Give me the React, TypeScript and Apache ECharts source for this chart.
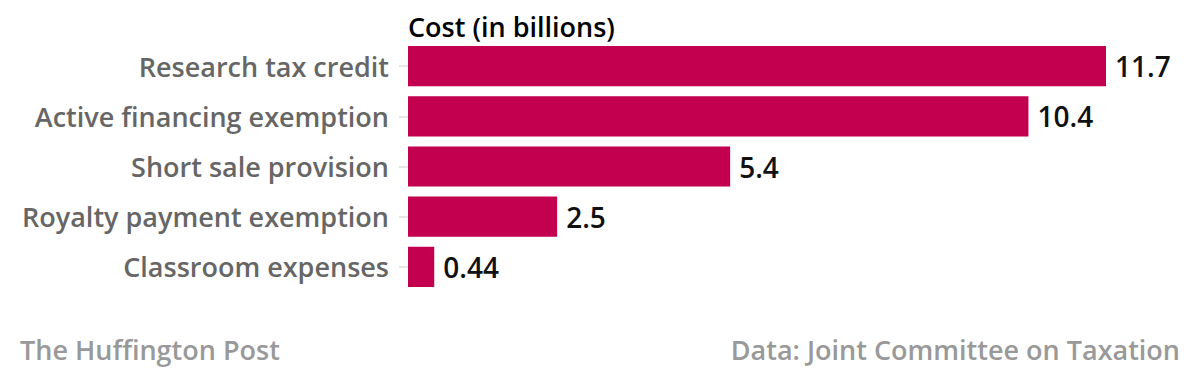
import React, { useEffect, useRef } from "react";
import * as echarts from "echarts";

const categories = [
  "Research tax credit",
  "Active financing exemption",
  "Short sale provision",
  "Royalty payment exemption",
  "Classroom expenses",
];
const values = [11.7, 10.4, 5.4, 2.5, 0.44];
const valueLabels = ["11.7", "10.4", "5.4", "2.5", "0.44"];
const titleText = "Cost (in billions)";
const sourceLeft = "The Huffington Post";
const sourceRight = "Data: Joint Committee on Taxation";

const FONT = "'Open Sans', 'Noto Sans', sans-serif";

export default function App() {
  const ref = useRef<HTMLDivElement>(null);
  useEffect(() => {
    if (!ref.current) return;
    const chart = echarts.init(ref.current, undefined, { renderer: "svg" });
    chart.setOption({
      animation: false,
      backgroundColor: "#ffffff",
      grid: { left: 408, right: 94, top: 41, bottom: 76, containLabel: false },
      xAxis: {
        type: "value",
        min: 0,
        max: 11.7,
        show: false,
      },
      yAxis: {
        type: "category",
        data: categories,
        inverse: true,
        axisLine: { show: false },
        axisTick: { show: true, length: 9, lineStyle: { color: "#dddddd", width: 1.5 }, alignWithLabel: true },
        axisLabel: { color: "#666666", fontSize: 27, fontFamily: FONT, fontWeight: 600, margin: 19 },
        splitLine: { show: false },
      },
      series: [
        {
          type: "bar",
          data: values,
          barCategoryGap: "20%",
          itemStyle: { color: "#c2004f" },
          label: {
            show: true,
            position: "right",
            distance: 9,
            color: "#111111",
            fontSize: 28,
            fontFamily: FONT,
            fontWeight: 600,
            formatter: (p: any) => valueLabels[p.dataIndex],
          },
        },
      ],
      graphic: [
        {
          type: "text",
          left: 408,
          top: 13,
          style: { text: titleText, fill: "#000000", font: `600 27px ${FONT}` },
        },
        {
          type: "text",
          left: 20,
          top: 336,
          style: { text: sourceLeft, fill: "#999999", font: `600 27px ${FONT}` },
        },
        {
          type: "text",
          right: 20,
          top: 336,
          style: { text: sourceRight, fill: "#999999", font: `600 27px ${FONT}` },
        },
      ],
    });
    return () => chart.dispose();
  }, []);
  return <div ref={ref} style={{ width: 1200, height: 368, position: "absolute", left: 0, top: 0 }} />;
}
